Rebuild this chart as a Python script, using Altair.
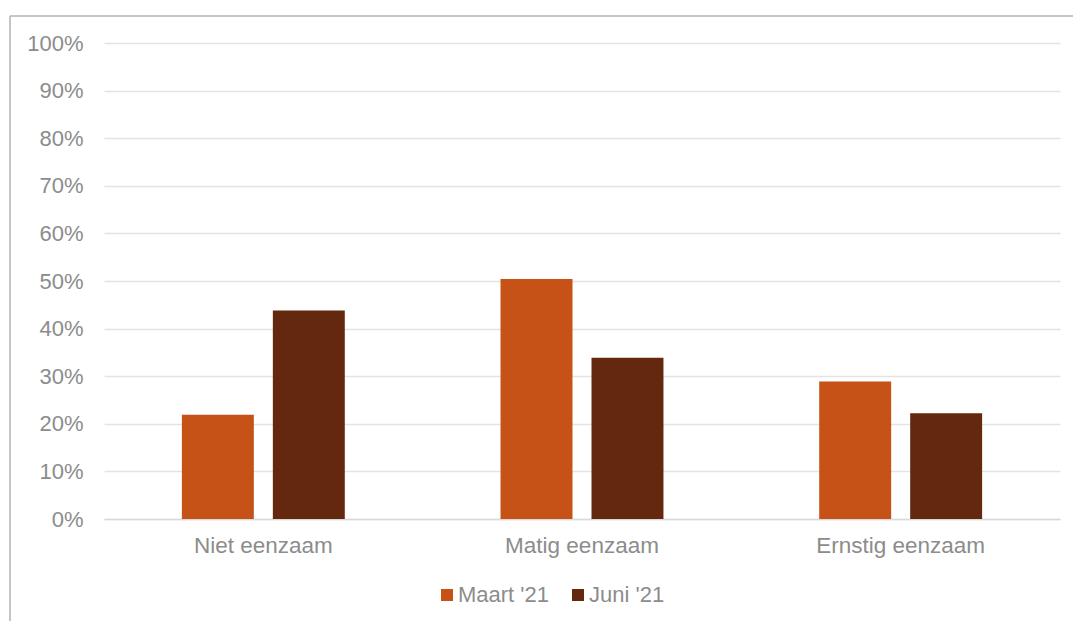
import altair as alt
import pandas as pd

# Loneliness categories and shares per survey wave
categories = ["Niet eenzaam", "Matig eenzaam", "Ernstig eenzaam"]
waves = ["Maart '21", "Juni '21"]
maart = [0.219, 0.504, 0.289]
juni = [0.438, 0.339, 0.222]
wave_colors = ["#C65218", "#63280D"]
y_ticks = [i / 10 for i in range(11)]

rows = []
for cat, m, j in zip(categories, maart, juni):
    rows.append({"categorie": cat, "meting": waves[0], "aandeel": m})
    rows.append({"categorie": cat, "meting": waves[1], "aandeel": j})
df = pd.DataFrame(rows)

FONT = "Liberation Sans"
TEXT = "#8c8c8c"
W, H = 956, 476

bars = alt.Chart(df).mark_bar().encode(
    x=alt.X(
        "categorie:N",
        sort=categories,
        scale=alt.Scale(paddingInner=0, paddingOuter=0),
        axis=alt.Axis(
            title=None, labelAngle=0, ticks=False, domainColor="#d9d9d9",
            domainWidth=1.5, labelFontSize=22.5, labelColor=TEXT, labelFont=FONT,
            labelPadding=15,
        ),
    ),
    xOffset=alt.XOffset(
        "meting:N", sort=waves,
        scale=alt.Scale(paddingInner=0.209, paddingOuter=0.856),
    ),
    y=alt.Y(
        "aandeel:Q",
        scale=alt.Scale(domain=[0, 1]),
        axis=alt.Axis(
            title=None, values=y_ticks, format=".0%", ticks=False, domain=False,
            gridColor="#e3e3e3", gridWidth=1.5, labelFontSize=22,
            labelColor=TEXT, labelFont=FONT, labelPadding=21,
        ),
    ),
    color=alt.Color(
        "meting:N",
        sort=waves,
        scale=alt.Scale(domain=waves, range=wave_colors),
        legend=alt.Legend(
            title=None, orient="none", direction="horizontal",
            legendX=332, legendY=541, symbolType="square", symbolSize=144,
            symbolStrokeWidth=0, labelFontSize=22, labelColor=TEXT,
            labelFont=FONT, labelOffset=0, columnPadding=17,
        ),
    ),
)

# Outer frame of the chart area (left and top edges)
frame_left = alt.Chart(df).mark_rule(color="#c4c4c4", strokeWidth=1.5).encode(
    x=alt.value(-94), y=alt.value(-27), y2=alt.value(H + 110)
)
frame_top = alt.Chart(df).mark_rule(color="#c4c4c4", strokeWidth=1.5).encode(
    x=alt.value(-94), x2=alt.value(W + 20), y=alt.value(-27)
)

chart = alt.layer(bars, frame_left, frame_top).properties(
    width=W,
    height=H,
    autosize=alt.AutoSizeParams(type="none"),
    padding={"left": 104, "top": 43, "right": 13, "bottom": 102},
    background="white",
).configure_view(stroke=None)

chart.save("out.html", embed_options={"renderer": "svg", "actions": False})
